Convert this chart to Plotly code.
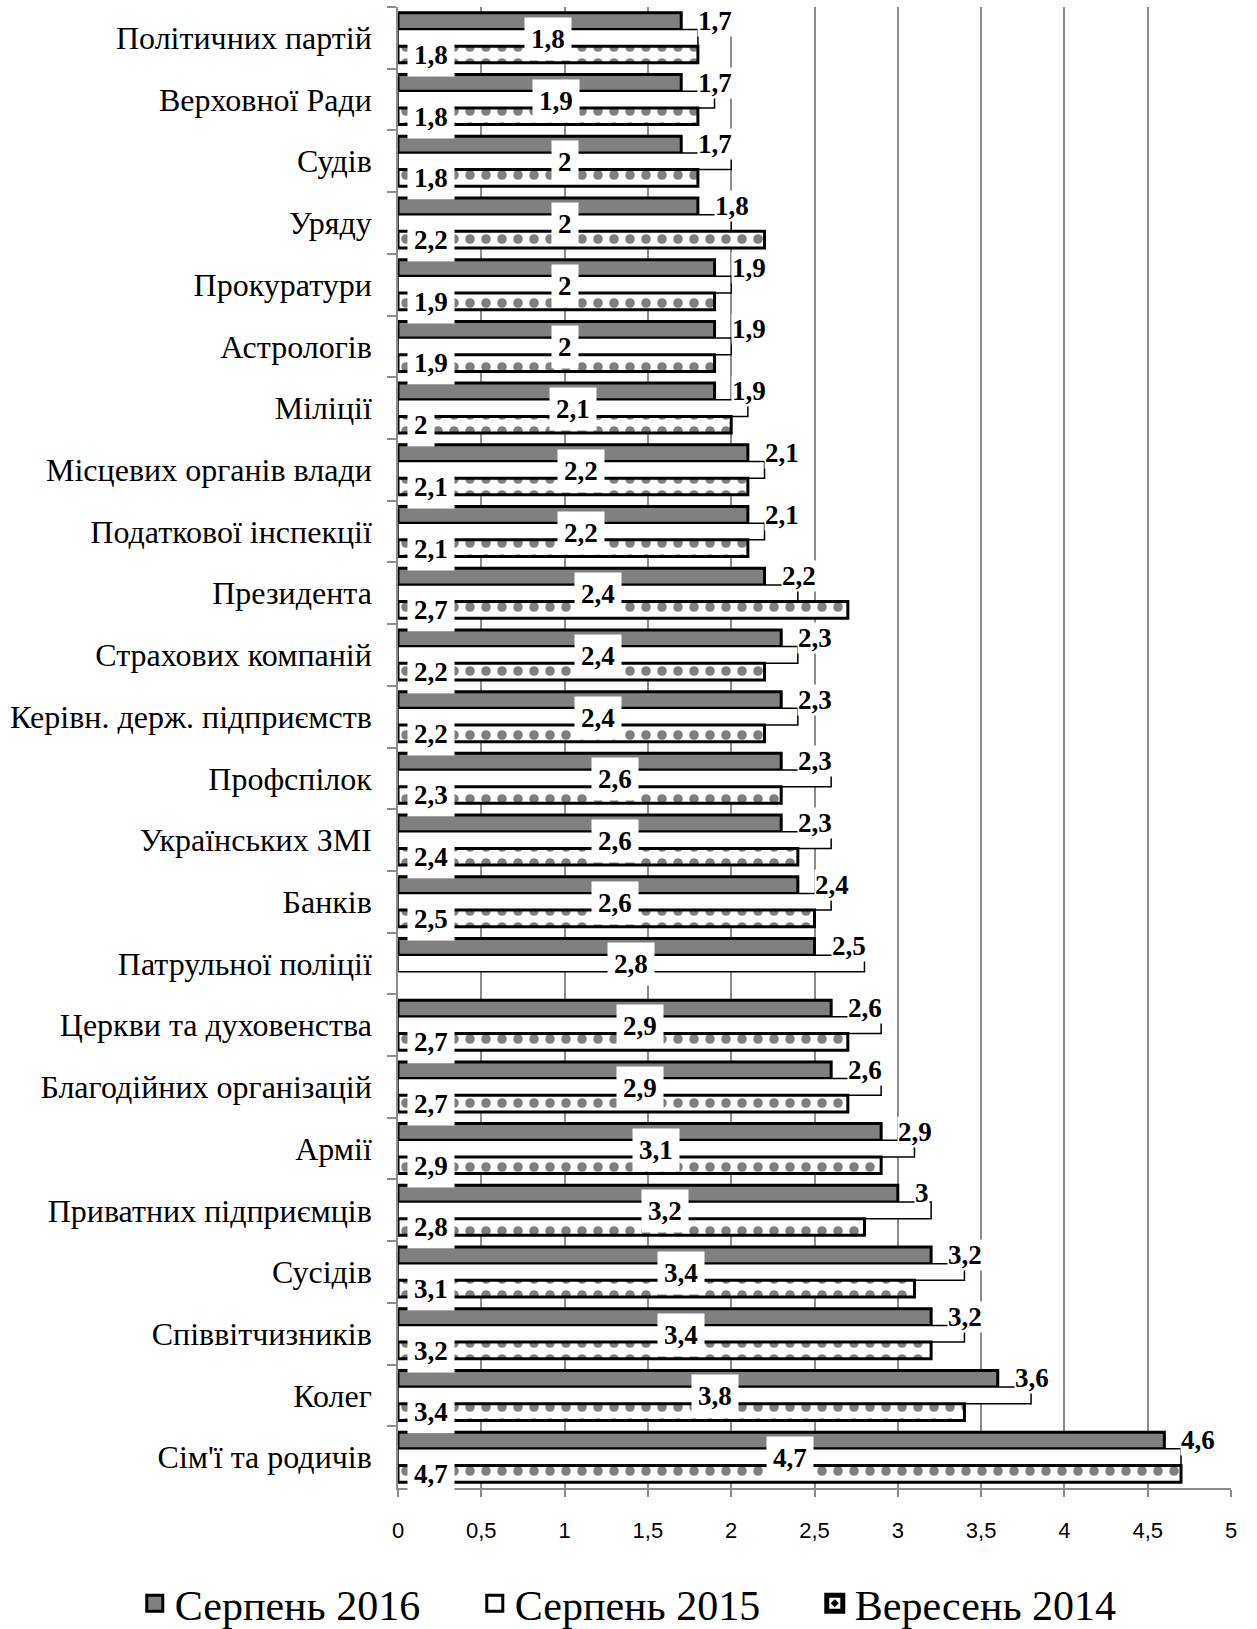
import plotly.graph_objects as go

# Trust levels by institution (scale 1-5)
categories = [
    "Політичних партій", "Верховної Ради", "Судів", "Уряду", "Прокуратури",
    "Астрологів", "Міліції", "Місцевих органів влади", "Податкової інспекції",
    "Президента", "Страхових компаній", "Керівн. держ. підприємств",
    "Профспілок", "Українських ЗМІ", "Банків", "Патрульної поліції",
    "Церкви та духовенства", "Благодійних організацій", "Армії",
    "Приватних підприємців", "Сусідів", "Співвітчизників", "Колег",
    "Сім'ї та родичів",
]
aug_2016 = [1.7, 1.7, 1.7, 1.8, 1.9, 1.9, 1.9, 2.1, 2.1, 2.2, 2.3, 2.3,
            2.3, 2.3, 2.4, 2.5, 2.6, 2.6, 2.9, 3.0, 3.2, 3.2, 3.6, 4.6]
aug_2015 = [1.8, 1.9, 2.0, 2.0, 2.0, 2.0, 2.1, 2.2, 2.2, 2.4, 2.4, 2.4,
            2.6, 2.6, 2.6, 2.8, 2.9, 2.9, 3.1, 3.2, 3.4, 3.4, 3.8, 4.7]
sep_2014 = [1.8, 1.8, 1.8, 2.2, 1.9, 1.9, 2.0, 2.1, 2.1, 2.7, 2.2, 2.2,
            2.3, 2.4, 2.5, None, 2.7, 2.7, 2.9, 2.8, 3.1, 3.2, 3.4, 4.7]
series_names = ["Серпень 2016", "Серпень 2015", "Вересень 2014"]
x_ticks = [0, 0.5, 1, 1.5, 2, 2.5, 3, 3.5, 4, 4.5, 5]

SERIF = "Liberation Serif"
GRID = "#8c8c8c"


def fmt(v):
    return f"{v:g}".replace(".", ",")


fig = go.Figure()

fig.add_bar(
    y=categories, x=aug_2016, orientation="h", name=series_names[0],
    marker=dict(color="#808080", line=dict(color="black", width=3)),
    showlegend=False, legendgroup="s16",
)
fig.add_bar(
    y=categories, x=aug_2015, orientation="h", name=series_names[1],
    marker=dict(color="white", line=dict(color="black", width=1.5)),
    showlegend=False, legendgroup="s15",
)
fig.add_bar(
    y=categories, x=sep_2014, orientation="h", name=series_names[2],
    marker=dict(
        color="white", line=dict(color="black", width=3),
        pattern=dict(shape=".", fgcolor="black", bgcolor="white",
                     size=16, solidity=0.28),
    ),
    showlegend=False, legendgroup="s14",
)

# legend entries with larger square swatches
legend_styles = [
    dict(symbol="square", color="#808080", line=dict(color="black", width=3)),
    dict(symbol="square", color="white", line=dict(color="black", width=3)),
    dict(symbol="square-dot", color="white", line=dict(color="black", width=5)),
]
for name, style, grp in zip(series_names, legend_styles, ["s16", "s15", "s14"]):
    fig.add_scatter(
        x=[None], y=[None], mode="markers", name=name, legendgroup=grp,
        marker=dict(size=16, **style),
    )

label_font = dict(family=SERIF, size=27, color="black", weight="bold")
annotations = []
for cat, v16, v15, v14 in zip(categories, aug_2016, aug_2015, sep_2014):
    annotations.append(dict(
        x=v16, y=cat, text=fmt(v16), showarrow=False, xanchor="left",
        xshift=16, yshift=17, font=label_font, bgcolor="white", borderpad=0,
    ))
    annotations.append(dict(
        x=v15 / 2, y=cat, text=fmt(v15), showarrow=False, xanchor="center",
        yshift=-1, font=label_font, bgcolor="white", borderpad=6,
    ))
    if v14 is not None:
        annotations.append(dict(
            x=0, y=cat, text=fmt(v14), showarrow=False, xanchor="left",
            xshift=9, yshift=-17, font=label_font, bgcolor="white", borderpad=6,
        ))

fig.update_layout(
    width=1257, height=1629,
    margin=dict(l=398, r=26, t=7, b=141, autoexpand=False),
    paper_bgcolor="white", plot_bgcolor="white",
    barmode="group", bargap=0.19, bargroupgap=0,
    separators=", ",
    annotations=annotations,
    legend=dict(
        orientation="h", xref="paper", yref="paper",
        x=-0.316, y=-0.078, xanchor="left", yanchor="middle",
        font=dict(family=SERIF, size=42, color="black"),
        itemwidth=30, tracegroupgap=0, entrywidth=295,
    ),
)
fig.update_xaxes(
    range=[0, 5], tickvals=x_ticks, ticktext=[fmt(t) for t in x_ticks],
    showgrid=True, gridcolor=GRID, gridwidth=1.5,
    showline=True, linecolor=GRID, linewidth=1.5,
    ticks="outside", ticklen=7, tickcolor=GRID, tickwidth=1.5,
    ticklabelstandoff=15,
    tickfont=dict(family="Liberation Sans", size=22, color="black"),
    zeroline=False,
)
fig.update_yaxes(
    type="category", range=[len(categories) - 0.5, -0.5],
    showline=True, linecolor=GRID, linewidth=1.5,
    ticks="outside", tickson="boundaries", ticklen=9, tickcolor=GRID,
    tickwidth=1.5, ticklabelstandoff=18,
    tickfont=dict(family=SERIF, size=32, color="black"),
    showgrid=False,
)

fig.write_html("out.html")
